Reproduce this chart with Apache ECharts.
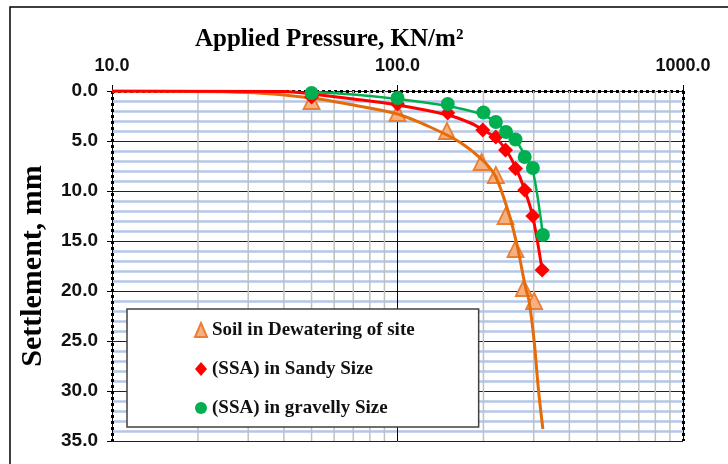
<!DOCTYPE html>
<html>
<head>
<meta charset="utf-8">
<script src="https://cdn.jsdelivr.net/npm/echarts@6/dist/echarts.min.js"></script>
<style>
html,body{margin:0;padding:0;background:#fff;}
#chart{width:728px;height:464px;}
</style>
</head>
<body>
<div id="chart"></div>
<script>
// ---- data ----
var seriesNames = ['Soil in Dewatering of site', '(SSA) in Sandy Size', '(SSA) in gravelly Size'];

// measured points [pressure kN/m2, settlement mm]
var soilPoints = [[50,1.0],[100,2.2],[149,4.0],[197,7.1],[221,8.4],[239,12.5],[259,15.8],[277,19.7],[301,21.0]];
var sandyPoints = [[50,0.6],[100,1.3],[150,2.2],[199,3.9],[221,4.6],[239,5.9],[259,7.75],[279,9.9],[298,12.5],[321,17.9]];
var gravelPoints = [[50,0.2],[100,0.7],[150,1.3],[200,2.15],[221,3.1],[240,4.1],[259,4.85],[279,6.6],[298,7.7],[323,14.4]];

// trend curves as drawn in the reference
var soilCurve = [[10,0],[30,0.15],[50,0.7],[70,1.4],[100,2.3],[130,3.6],[165,5.1],[200,7.0],[221,8.6],[247,12.5],[264,15.8],[281,19.7],[289,21.0],[301,25],[312,30],[323,33.8]];
var sandyCurve = [[10,0],[40,0.05],[50,0.3],[70,0.8],[100,1.4],[150,2.4],[180,3.2],[200,3.9],[221,4.7],[240,5.9],[259,7.6],[279,9.9],[298,12.6],[321,17.9]];
var gravelCurve = [[50,0.1],[70,0.35],[100,0.8],[150,1.5],[180,2.0],[200,2.4],[221,3.1],[240,4.0],[259,4.9],[279,6.4],[298,8.0],[323,14.4]];

// axis settings
var xTicks = [10, 100, 1000];
var xMinorGrid = [20,30,40,50,60,70,80,90,200,300,400,500,600,700,800,900];
var yMin = 0, yMax = 35, yStep = 5;

var chart = echarts.init(document.getElementById('chart'));
var serif = "'Liberation Serif','Times New Roman',serif";
var sans = "'Liberation Sans',Arial,sans-serif";
var dotted = {color:'#000', width:3, type:[3,3], cap:'butt'};

var option = {
  animation: false,
  backgroundColor: '#fff',
  title: {
    text: 'Applied Pressure, KN/m\u00B2',
    left: 190, top: 22,
    textStyle: {fontFamily: serif, fontWeight: 'bold', fontSize: 25, color: '#000'}
  },
  graphic: [{
    type: 'rect', silent: true, z: -10,
    shape: {x: 10, y: 7, width: 740, height: 480},
    style: {fill: 'none', stroke: '#000', lineWidth: 1.5}
  }],
  legend: {
    data: seriesNames,
    orient: 'vertical',
    left: 127, top: 309,
    padding: [11, 64, 9, 67],
    itemGap: 19,
    itemWidth: 12, itemHeight: 14,
    backgroundColor: '#fff',
    borderColor: '#404040', borderWidth: 1.5,
    selectedMode: false,
    textStyle: {fontFamily: serif, fontWeight: 'bold', fontSize: 19, color: '#111', lineHeight: 20},
    z: 20
  },
  grid: {left: 112, right: 45, top: 91, bottom: 23},
  xAxis: [{
    type: 'log', logBase: 10, min: xTicks[0], max: xTicks[xTicks.length-1],
    position: 'top',
    axisLine: {show: true, lineStyle: dotted},
    axisTick: {show: true, length: 6, lineStyle: {color: '#000', width: 1}},
    axisLabel: {
      margin: 16, color: '#111', fontFamily: sans, fontWeight: 'bold', fontSize: 18,
      formatter: function (v) { return Number(v).toFixed(1); }
    },
    splitLine: {show: true, lineStyle: {color: '#000', width: 1}},
    minorTick: {show: false}
  }, {
    type: 'log', logBase: 10, min: xTicks[0], max: xTicks[xTicks.length-1],
    position: 'bottom',
    axisLine: {show: true, lineStyle: dotted},
    axisTick: {show: false}, axisLabel: {show: false}, splitLine: {show: false}
  }],
  yAxis: [{
    type: 'value', inverse: true, min: yMin, max: yMax, interval: yStep,
    position: 'left',
    name: 'Settlement, mm', nameLocation: 'middle', nameGap: 64, nameRotate: 90,
    nameTextStyle: {fontFamily: serif, fontWeight: 'bold', fontSize: 30, color: '#000'},
    axisLine: {show: true, lineStyle: dotted},
    axisTick: {show: true, length: 5, lineStyle: {color: '#000', width: 1}},
    axisLabel: {
      margin: 14, color: '#111', fontFamily: sans, fontWeight: 'bold', fontSize: 19,
      formatter: function (v) { return Number(v).toFixed(1); }
    },
    splitLine: {show: true, lineStyle: {color: '#222', width: 1}},
    minorTick: {show: false, splitNumber: 5},
    minorSplitLine: {show: true, lineStyle: {color: '#b4c7e7', width: 2.5}}
  }, {
    type: 'value', inverse: true, min: yMin, max: yMax, interval: yStep,
    position: 'right',
    axisLine: {show: true, lineStyle: dotted},
    axisTick: {show: false}, axisLabel: {show: false}, splitLine: {show: false}
  }],
  series: [
    {
      name: 'minor-grid', type: 'custom', z: 1, silent: true,
      xAxisIndex: 0, yAxisIndex: 0,
      data: xMinorGrid.map(function (v) { return [v]; }),
      encode: {x: 0},
      renderItem: function (params, api) {
        var v = api.value(0);
        var p1 = api.coord([v, yMin]);
        var p2 = api.coord([v, yMax]);
        return {type: 'line', shape: {x1: p1[0], y1: p1[1], x2: p2[0], y2: p2[1]},
                style: {stroke: '#c0c0c0', lineWidth: 1.5}};
      }
    },
    {
      name: 'soil-curve', type: 'line', data: soilCurve, smooth: 0.3, showSymbol: false, z: 4,
      lineStyle: {color: '#e46c0a', width: 3}, silent: true
    },
    {
      name: seriesNames[0], type: 'scatter', data: soilPoints, symbol: 'triangle', symbolSize: 16, z: 3,
      itemStyle: {color: '#f4b183', borderColor: '#ed7d31', borderWidth: 1.8, opacity: 1}
    },
    {
      name: 'gravel-curve', type: 'line', data: gravelCurve, smooth: 0.3, showSymbol: false, z: 6,
      lineStyle: {color: '#00b050', width: 2.5}, silent: true
    },
    {
      name: 'sandy-curve', type: 'line', data: sandyCurve, smooth: 0.3, showSymbol: false, z: 7,
      lineStyle: {color: '#ff0000', width: 3}, silent: true
    },
    {
      name: seriesNames[1], type: 'scatter', data: sandyPoints, symbol: 'diamond', symbolSize: 15, z: 5,
      itemStyle: {color: '#ff0000', opacity: 1}
    },
    {
      name: seriesNames[2], type: 'scatter', data: gravelPoints, symbol: 'circle', symbolSize: 14, z: 8,
      itemStyle: {color: '#00b050', opacity: 1}
    }
  ]
};
chart.setOption(option);
</script>
</body>
</html>
